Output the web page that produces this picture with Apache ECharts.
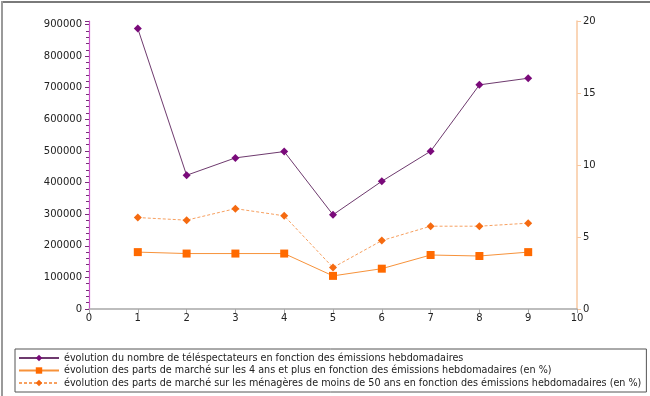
<!DOCTYPE html>
<html>
<head>
<meta charset="utf-8">
<script src="https://cdn.jsdelivr.net/npm/echarts@6/dist/echarts.min.js"></script>
<style>
  html, body { margin: 0; padding: 0; background: #fff; }
  #chart { width: 650px; height: 396px; }
</style>
</head>
<body>
<div id="chart"></div>
<script>
const emissions = [1, 2, 3, 4, 5, 6, 7, 8, 9];
const viewers = [887000, 423000, 478000, 498000, 298000, 404000, 499000, 709000, 730000];
const share4Plus = [3.95, 3.85, 3.85, 3.85, 2.3, 2.8, 3.75, 3.68, 3.95];
const shareHousewives = [6.35, 6.17, 6.97, 6.47, 2.88, 4.75, 5.75, 5.75, 5.96];

const seriesNames = [
  'évolution du nombre de téléspectateurs en fonction des émissions hebdomadaires',
  'évolution des parts de marché sur les 4 ans et plus en fonction des émissions hebdomadaires (en %)',
  'évolution des parts de marché sur les ménagères de moins de 50 ans en fonction des émissions hebdomadaires (en %)'
];

const pairs = (ys) => emissions.map((x, i) => [x, ys[i]]);
const font = 'DejaVu Sans';

const chart = echarts.init(document.getElementById('chart'));

chart.setOption({
  animation: false,
  backgroundColor: '#fff',
  textStyle: { fontFamily: font },
  graphic: [
    { type: 'rect', shape: { x: 1, y: 1, width: 649, height: 2 }, style: { fill: '#7a7a7a' } },
    { type: 'rect', shape: { x: 1, y: 1, width: 2, height: 395 }, style: { fill: '#9a9a9a' } }
  ],
  grid: {
    left: 89,
    right: 73,
    top: 21,
    bottom: 87
  },
  legend: {
    orient: 'vertical',
    left: 15,
    top: 349,
    padding: [4, 5, 4, 3],
    itemGap: 2.5,
    itemWidth: 40,
    itemHeight: 8,
    borderColor: '#555',
    borderWidth: 1,
    textStyle: { fontFamily: font, fontSize: 9.65, color: '#222' },
    data: seriesNames
  },
  xAxis: {
    type: 'value',
    min: 0,
    max: 10,
    interval: 1,
    splitLine: { show: false },
    axisLine: { lineStyle: { color: '#a8a8a8', width: 1.5 } },
    axisTick: { show: true, length: 4, lineStyle: { color: '#a8a8a8' } },
    axisLabel: { color: '#222', fontSize: 10, margin: 4 }
  },
  yAxis: [
    {
      type: 'value',
      position: 'left',
      min: 0,
      max: 911000,
      interval: 100000,
      splitLine: { show: false },
      axisLine: { show: true, lineStyle: { color: '#cc55cc', width: 1.2 } },
      axisTick: { show: true, length: 4, lineStyle: { color: '#7a2a7a' } },
      minorTick: { show: true, splitNumber: 5, length: 3, lineStyle: { color: '#7a2a7a' } },
      axisLabel: {
        color: '#222',
        fontSize: 10,
        margin: 7,
        showMaxLabel: false,
        formatter: (v) => String(v)
      }
    },
    {
      type: 'value',
      position: 'right',
      min: 0,
      max: 20,
      interval: 5,
      splitLine: { show: false },
      axisLine: { show: true, lineStyle: { color: '#f8c8a0', width: 1.5 } },
      axisTick: { show: true, length: 4, lineStyle: { color: '#f8c8a0' } },
      axisLabel: { color: '#222', fontSize: 10, margin: 6 }
    }
  ],
  series: [
    {
      name: seriesNames[0],
      type: 'line',
      yAxisIndex: 0,
      data: pairs(viewers),
      symbol: 'diamond',
      symbolSize: 8,
      itemStyle: { color: '#7a0a7a' },
      lineStyle: { color: '#6e3a6e', width: 1 }
    },
    {
      name: seriesNames[1],
      type: 'line',
      yAxisIndex: 1,
      data: pairs(share4Plus),
      symbol: 'rect',
      symbolSize: 8,
      itemStyle: { color: '#ff6a00' },
      lineStyle: { color: '#f7923a', width: 1 }
    },
    {
      name: seriesNames[2],
      type: 'line',
      yAxisIndex: 1,
      data: pairs(shareHousewives),
      symbol: 'diamond',
      symbolSize: 8,
      itemStyle: { color: '#f56a10' },
      lineStyle: { color: '#f7a060', width: 1, type: [3, 2] }
    }
  ]
});
</script>
</body>
</html>
